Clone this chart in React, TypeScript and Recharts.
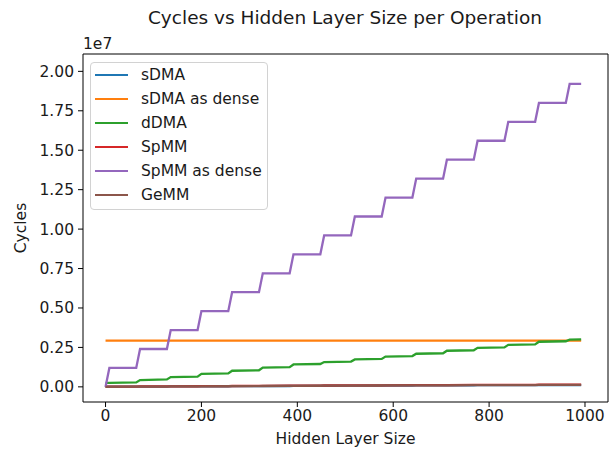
import { LineChart, Line, XAxis, YAxis, Legend } from 'recharts'

const FONT = '"DejaVu Sans", sans-serif'
const INK = '#1a1a1a'

// hidden layer sizes at the corners of the staircases
const hiddenSize = [
  0, 8, 64, 72, 128, 136, 192, 200, 256, 264, 320, 328, 384, 392, 448, 456, 512,
  520, 576, 584, 640, 648, 704, 712, 768, 776, 832, 840, 896, 904, 960, 968, 992,
]

// all series in millions of cycles
const sdma = [
  0.01, 0.01, 0.015, 0.015, 0.02, 0.025, 0.03, 0.03, 0.035, 0.04, 0.045, 0.05, 0.055, 0.06, 0.065, 0.07, 0.075,
  0.075, 0.08, 0.085, 0.085, 0.09, 0.095, 0.095, 0.1, 0.105, 0.105, 0.105, 0.11, 0.115, 0.115, 0.115, 0.115,
]
const sdmaDense = [
  2.93, 2.93, 2.93, 2.93, 2.93, 2.93, 2.93, 2.93, 2.93, 2.93, 2.93, 2.93, 2.93, 2.93, 2.93, 2.93, 2.93,
  2.93, 2.93, 2.93, 2.93, 2.93, 2.93, 2.93, 2.93, 2.93, 2.93, 2.93, 2.93, 2.93, 2.93, 2.93, 2.93,
]
const ddma = [
  0.25, 0.25, 0.28, 0.43, 0.47, 0.62, 0.65, 0.82, 0.85, 1.02, 1.05, 1.22, 1.25, 1.42, 1.45, 1.57, 1.6,
  1.74, 1.77, 1.92, 1.95, 2.1, 2.13, 2.29, 2.32, 2.47, 2.5, 2.66, 2.69, 2.86, 2.89, 2.99, 3.01,
]
const spmm = [
  0.01, 0.015, 0.02, 0.025, 0.03, 0.035, 0.04, 0.045, 0.05, 0.055, 0.06, 0.065, 0.07, 0.075, 0.08, 0.085, 0.09,
  0.095, 0.1, 0.1, 0.105, 0.11, 0.11, 0.115, 0.12, 0.12, 0.125, 0.13, 0.13, 0.135, 0.14, 0.14, 0.14,
]
const spmmDense = [
  0, 1.2, 1.2, 2.4, 2.4, 3.6, 3.6, 4.8, 4.8, 6.0, 6.0, 7.2, 7.2, 8.4, 8.4, 9.6, 9.6,
  10.8, 10.8, 12.0, 12.0, 13.2, 13.2, 14.4, 14.4, 15.6, 15.6, 16.8, 16.8, 18.0, 18.0, 19.2, 19.2,
]
const gemm = [
  0, 0.005, 0.01, 0.015, 0.02, 0.025, 0.03, 0.035, 0.04, 0.045, 0.05, 0.055, 0.06, 0.065, 0.07, 0.075, 0.08,
  0.08, 0.085, 0.09, 0.09, 0.095, 0.1, 0.1, 0.105, 0.11, 0.11, 0.11, 0.115, 0.12, 0.12, 0.12, 0.12,
]

const seriesKeys = ['sdma', 'sdmaDense', 'ddma', 'spmm', 'spmmDense', 'gemm']
const seriesNames = ['sDMA', 'sDMA as dense', 'dDMA', 'SpMM', 'SpMM as dense', 'GeMM']
const seriesColors = ['#1f77b4', '#ff7f0e', '#2ca02c', '#d62728', '#9467bd', '#8c564b']
const seriesValues = [sdma, sdmaDense, ddma, spmm, spmmDense, gemm]

const xTicks = [0, 200, 400, 600, 800, 1000]
const yTicks = [0, 2.5e6, 5e6, 7.5e6, 1e7, 1.25e7, 1.5e7, 1.75e7, 2e7]

const rows = hiddenSize.map((h, i) => {
  const row: Record<string, number> = { h }
  seriesKeys.forEach((k, j) => {
    row[k] = seriesValues[j][i] * 1e6
  })
  return row
})

const tickStyle = { fontSize: 15.5, fill: INK, fontFamily: FONT }

// recharts sorts legend payload, so keep the plotting order here
function LegendBox() {
  return (
    <div
      style={{
        width: 178,
        height: 148,
        boxSizing: 'border-box',
        border: '1px solid #d2d2d2',
        borderRadius: 4,
        background: 'rgba(255,255,255,0.8)',
        padding: '0 0 0 4px',
        fontFamily: FONT,
        fontSize: 15.5,
        color: INK,
      }}
    >
      {seriesNames.map((name, j) => (
        <div key={name} style={{ display: 'flex', alignItems: 'center', height: 24 }}>
          <span
            style={{ display: 'inline-block', width: 33, height: 2.5, background: seriesColors[j], marginRight: 13 }}
          />
          <span>{name}</span>
        </div>
      ))}
    </div>
  )
}

export default function App() {
  return (
    <div style={{ position: 'absolute', left: 0, top: 0, width: 615, height: 449, background: '#fff' }}>
      <LineChart width={615} height={449} data={rows} margin={{ top: 53, right: 6, bottom: 0, left: 0 }}>
        <text x={345} y={24} textAnchor="middle" fontFamily={FONT} fontSize={18.5} fill={INK}>
          Cycles vs Hidden Layer Size per Operation
        </text>
        <text x={83} y={49} fontFamily={FONT} fontSize={15.5} fill={INK}>
          1e7
        </text>
        <XAxis
          dataKey="h"
          type="number"
          domain={[-47, 1048]}
          ticks={xTicks}
          allowDataOverflow
          height={47}
          tick={tickStyle}
          tickSize={5}
          tickMargin={3}
          stroke="#000"
          axisLine={{ stroke: '#000', strokeWidth: 1 }}
          tickLine={{ stroke: '#000' }}
          label={{
            value: 'Hidden Layer Size',
            position: 'insideBottom',
            offset: 5,
            style: { fontSize: 15.5, fill: INK, fontFamily: FONT },
          }}
        />
        <XAxis
          xAxisId="top"
          orientation="top"
          dataKey="h"
          type="number"
          domain={[-47, 1048]}
          allowDataOverflow
          height={1}
          tick={false}
          tickLine={false}
          stroke="#000"
          axisLine={{ stroke: '#000', strokeWidth: 1 }}
        />
        <YAxis
          type="number"
          domain={[-0.096e7, 2.11e7]}
          ticks={yTicks}
          allowDataOverflow
          width={83}
          tick={tickStyle}
          tickSize={5}
          tickMargin={4}
          tickFormatter={(v: number) => (v / 1e7).toFixed(2)}
          axisLine={{ stroke: '#000', strokeWidth: 1 }}
          tickLine={{ stroke: '#000' }}
          label={{
            value: 'Cycles',
            angle: -90,
            position: 'insideLeft',
            offset: 20,
            style: { textAnchor: 'middle', fontSize: 15.5, fill: INK, fontFamily: FONT },
          }}
        />
        <YAxis
          yAxisId="right"
          orientation="right"
          type="number"
          domain={[-0.096e7, 2.11e7]}
          allowDataOverflow
          width={1}
          tick={false}
          tickLine={false}
          stroke="#000"
          axisLine={{ stroke: '#000', strokeWidth: 1 }}
        />
        <Legend
          layout="vertical"
          align="center"
          verticalAlign="middle"
          content={<LegendBox />}
          wrapperStyle={{ left: 90, top: 62, width: 178, height: 148 }}
        />
        {seriesKeys.map((k, j) => (
          <Line
            key={k}
            dataKey={k}
            name={seriesNames[j]}
            type="linear"
            stroke={seriesColors[j]}
            strokeWidth={2.3}
            dot={false}
            activeDot={false}
            isAnimationActive={false}
          />
        ))}
      </LineChart>
    </div>
  )
}
